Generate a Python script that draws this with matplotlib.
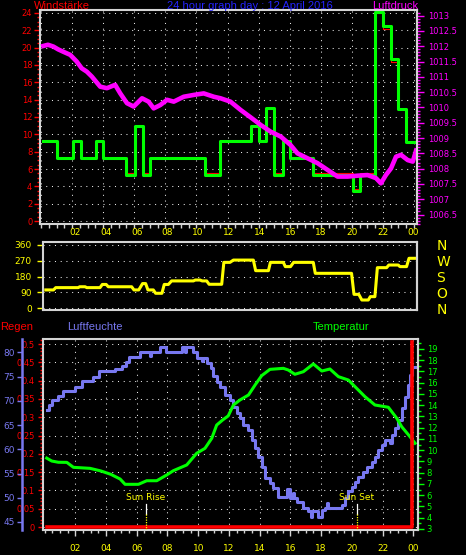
import matplotlib
matplotlib.use('Agg')
import matplotlib.pyplot as plt
from matplotlib.ticker import MultipleLocator, FixedLocator, FuncFormatter
import matplotlib.transforms as mtransforms

# ---- data (hours of the day) ----
# wind speed, step values (green = gust, red = average)
wind_t = [0.1, 1.0, 2.05, 2.55, 3.55, 4.0, 5.5, 6.05, 6.55, 7.0, 10.55, 11.5, 13.5, 14.0,
          14.5, 15.0, 15.55, 16.05, 17.5, 20.05, 20.55, 21.5, 22.0, 22.5, 23.0, 23.5, 24.1]
wind_gust = [9.2, 7.3, 9.2, 7.3, 9.2, 7.3, 5.3, 11.0, 5.3, 7.3, 5.3, 9.2, 11.0, 9.2,
             13.0, 5.3, 9.2, 7.3, 5.3, 3.5, 5.3, 24.15, 22.5, 18.7, 12.9, 9.1, 9.1]
wind_avg = [9.2, 7.3, 9.2, 7.3, 9.2, 7.3, 5.5, 11.0, 5.5, 7.3, 5.5, 9.2, 11.0, 9.2,
            13.0, 5.5, 9.2, 7.3, 5.5, 3.7, 5.5, 24.0, 22.2, 18.4, 12.9, 9.1, 9.1]

# air pressure (hPa)
press_t = [0.15, 0.45, 0.8, 1.1, 1.44, 1.88, 2.3, 2.62, 2.95, 3.27, 3.81, 4.24, 4.77, 5.1,
           5.53, 5.96, 6.5, 6.92, 7.25, 7.68, 8.11, 8.54, 9.18, 9.83, 10.47, 11.12, 11.55,
           12.19, 12.84, 13.48, 14.13, 14.77, 15.42, 16.06, 16.5, 17.14, 17.79, 18.43,
           19.08, 19.72, 20.37, 21.01, 21.55, 21.87, 22.19, 22.52, 22.84, 23.16, 23.59,
           23.92, 24.13]
press_v = [1012.01, 1012.05, 1011.99, 1011.9, 1011.82, 1011.72, 1011.5, 1011.28, 1011.17,
           1011.01, 1010.68, 1010.63, 1010.74, 1010.46, 1010.14, 1010.03, 1010.3, 1010.19,
           1009.97, 1010.08, 1010.25, 1010.19, 1010.35, 1010.41, 1010.46, 1010.35, 1010.3,
           1010.19, 1009.92, 1009.68, 1009.43, 1009.21, 1009.05, 1008.77, 1008.5, 1008.34,
           1008.18, 1007.96, 1007.74, 1007.74, 1007.77, 1007.79, 1007.69, 1007.52, 1007.79,
           1008.01, 1008.39, 1008.45, 1008.28, 1008.23, 1008.59]

# wind direction (degrees)
dir_t = [0.08, 0.58, 0.73, 2.19, 2.29, 2.64, 2.75, 3.61, 3.76, 4.01, 4.15, 5.67, 5.82, 6.13,
         6.38, 6.58, 6.73, 7.08, 7.23, 7.64, 7.79, 8.06, 8.27, 9.69, 9.81, 10.12, 10.26,
         10.55, 10.71, 11.53, 11.67, 12.07, 12.29, 13.59, 13.74, 14.57, 14.7, 15.54, 15.67,
         16.01, 16.21, 17.49, 17.62, 19.98, 20.14, 20.45, 20.65, 21.07, 21.2, 21.5, 21.66,
         22.26, 22.41, 23.02, 23.13, 23.56, 23.72, 24.11]
dir_v = [104, 104, 117, 117, 122, 122, 117, 117, 135, 135, 122, 122, 104, 104,
         140, 140, 104, 104, 85, 85, 135, 135, 155, 155, 160, 160, 155,
         155, 136, 136, 260, 260, 273, 273, 213, 213, 260, 260, 236,
         236, 260, 260, 198, 198, 79, 79, 47, 47, 66, 66, 230,
         230, 245, 245, 236, 236, 283, 283]

# humidity (%), step values
hum_t = [0.14, 0.28, 0.47, 0.9, 1.22, 1.98, 2.41, 3.18, 3.56, 4.58, 5.02, 5.3, 5.52, 6.22,
         6.86, 6.95, 7.52, 7.9, 8.93, 9.14, 9.2, 9.69, 9.9, 10.23, 10.31, 10.55, 10.82,
         10.99, 11.2, 11.42, 11.74, 12.07, 12.29, 12.5, 12.72, 12.93, 13.27, 13.48, 13.7,
         13.91, 14.13, 14.35, 14.67, 14.89, 15.21, 15.76, 15.97, 16.19, 16.26, 16.4, 16.84,
         17.17, 17.31, 17.38, 17.81, 18.04, 18.25, 18.36, 18.43, 19.34, 19.55, 19.77, 19.98,
         20.2, 20.42, 20.75, 20.96, 21.28, 21.5, 21.72, 21.94, 22.15, 22.48, 22.58, 22.81,
         23.02, 23.24, 23.45, 23.67, 23.78, 23.94, 24.11]
hum_v = [68.1, 69.1, 70.2, 71.0, 72.0, 72.9, 74.1, 75.0, 76.2, 76.6, 77.2, 77.9, 79.0, 80.0,
         79.3, 80.0, 81.0, 80.0, 81.0, 80.0, 81.0, 80.0, 78.9, 78.3, 78.9, 77.7, 76.7,
         75.2, 73.9, 72.9, 71.1, 70.2, 68.8, 67.4, 66.4, 65.0, 64.0, 61.9, 60.2,
         58.5, 56.4, 54.0, 53.0, 52.0, 50.2, 51.8, 49.9, 51.0, 49.9, 49.2, 47.8,
         47.3, 46.1, 47.3, 46.1, 47.5, 47.8, 49.0, 47.8, 48.5, 49.9, 51.3, 52.3,
         53.3, 54.3, 55.4, 56.4, 57.4, 58.5, 59.9, 60.9, 61.9, 61.2, 63.0, 64.3,
         66.0, 68.5, 70.8, 73.3, 75.3, 77.0, 77.0]

# temperature (deg C)
temp_t = [0.14, 0.47, 0.9, 1.45, 1.88, 2.96, 3.66, 4.31, 4.92, 5.24, 6.11, 6.65, 7.3, 7.95,
          8.38, 9.25, 9.9, 10.44, 10.88, 11.2, 11.59, 11.95, 12.29, 12.72, 13.27, 13.7,
          14.13, 14.67, 15.54, 15.86, 16.29, 16.84, 17.49, 18.04, 18.57, 19.12, 19.77,
          20.2, 20.85, 21.5, 22.37, 22.92, 23.24, 23.78, 24.11]
temp_v = [9.3, 9.04, 8.93, 8.92, 8.48, 8.39, 8.16, 7.86, 7.44, 6.97, 6.97, 7.29, 7.29, 7.8,
          8.18, 8.69, 9.73, 10.17, 11.06, 12.24, 12.69, 13.05, 14.02, 14.47, 14.91, 15.8,
          16.63, 17.19, 17.28, 17.13, 16.75, 16.98, 17.67, 17.04, 17.22, 16.54, 16.24,
          15.65, 14.76, 14.02, 13.82, 12.84, 12.09, 11.2, 10.62]

# rain (mm)
rain_t = [0.14, 23.93, 23.93]
rain_v = [0.0, 0.0, 0.505]

sunrise_h = 6.62
sunset_h = 20.35
hour_ticks = list(range(2, 25, 2))
hour_labels = ['%02d' % (h % 24) for h in hour_ticks]

# ---- style ----
W, H = 466, 555
FRAME = '#d4d4d4'
RED = '#ff0000'
MAG = '#ff00ff'
GREEN = '#00ff00'
YEL = '#ffff00'
HUM = '#7878f0'
NARROW = ['Liberation Sans Narrow', 'DejaVu Sans']
GRID = dict(color='#e8e8e8', lw=0.75, ls=(0, (1, 4.5)))

fig = plt.figure(figsize=(W / 100, H / 100), dpi=100, facecolor='black')


def box(x0, y0, x1, y1):
    # pixel rectangle -> figure fraction
    return [x0 / W, 1 - y1 / H, (x1 - x0) / W, (y1 - y0) / H]


def frame(ax, hide=()):
    for name, sp in ax.spines.items():
        sp.set_color(FRAME)
        sp.set_linewidth(1.5)
        sp.set_visible(name not in hide)


def ylabels(ax, color, size=6, family=NARROW):
    for lab in ax.get_yticklabels():
        lab.set_color(color)
        lab.set_fontsize(size)
        lab.set_family(family)


# ---- top panel: wind speed + pressure ----
ax1 = fig.add_axes(box(40, 10, 417.3, 224))
ax1.set_facecolor('black')
frame(ax1)
ax1.set_xlim(-0.064, 24.21)
ax1.set_ylim(-0.346, 24.346)
ax1.xaxis.set_major_locator(MultipleLocator(2))
ax1.xaxis.set_minor_locator(MultipleLocator(0.5))
ax1.yaxis.set_major_locator(MultipleLocator(2))
ax1.yaxis.set_minor_locator(MultipleLocator(0.5))
ax1.tick_params(axis='x', which='both', colors=FRAME, labelbottom=False, length=3, width=1)
ax1.tick_params(axis='y', which='major', colors=RED, length=4, width=1, pad=1.5)
ax1.tick_params(axis='y', which='minor', colors=RED, length=2, width=1)
ylabels(ax1, RED)
ax1.grid(True, which='major', **GRID)
ax1.set_axisbelow(True)
ax1.step(wind_t, wind_avg, where='post', color=RED, lw=0.8)
ax1.step(wind_t, wind_gust, where='post', color=GREEN, lw=2.2)

ax1p = ax1.twinx()
frame(ax1p, hide=('left', 'top', 'bottom'))
ax1p.set_ylim(1006.19, 1013.186)
ax1p.yaxis.set_major_locator(MultipleLocator(0.5))
ax1p.yaxis.set_minor_locator(MultipleLocator(0.1))
ax1p.yaxis.set_major_formatter(FuncFormatter(lambda v, p: '%g' % v))
ax1p.tick_params(axis='y', which='major', colors=MAG, length=5, width=1, pad=2.5)
ax1p.tick_params(axis='y', which='minor', colors=MAG, length=2.5, width=1)
ylabels(ax1p, MAG)
ax1p.plot(press_t, press_v, color=MAG, lw=3.3)

fig.text(34 / W, 1 - 6 / H, 'Windstärke', color=RED, fontsize=8,
         family='Liberation Sans', va='center', ha='left')
fig.text(250 / W, 1 - 6 / H, '24 hour graph day : 12 April 2016', color='#2424ff',
         fontsize=8, family='Liberation Sans', va='center', ha='center')
fig.text(372 / W, 1 - 6 / H, 'Luftdruck', color=MAG, fontsize=8,
         family='Liberation Sans', va='center', ha='left')

# ---- middle panel: wind direction ----
ax2 = fig.add_axes(box(43, 242, 417, 310))
ax2.set_facecolor('black')
frame(ax2)
ax2.set_xlim(-0.1, 24.24)
ax2.set_ylim(-9.6, 375.3)
ax2.yaxis.set_major_locator(FixedLocator([0, 90, 180, 270, 360]))
ax2.xaxis.set_major_locator(FixedLocator(hour_ticks))
ax2.set_xticklabels(hour_labels)
ax2.tick_params(axis='x', which='both', top=True, bottom=False, labeltop=True,
                labelbottom=False, length=0, pad=3.5, labelcolor=YEL, labelsize=6.5)
ax2.tick_params(axis='y', colors=YEL, length=4, width=1, pad=4, labelsize=6.5)
ax2.yaxis.grid(True, **GRID)
ax2.set_axisbelow(True)
ax2.plot(dir_t, dir_v, color=YEL, lw=2.2)

ax2r = ax2.twinx()
frame(ax2r, hide=('left', 'top', 'bottom'))
ax2r.set_ylim(ax2.get_ylim())
ax2r.yaxis.set_major_locator(FixedLocator([0, 90, 180, 270, 360]))
ax2r.set_yticklabels(['N', 'O', 'S', 'W', 'N'])
ax2r.tick_params(axis='y', length=0, pad=14, labelcolor=YEL, labelsize=10)

# ---- bottom panel: rain, humidity, temperature ----
axr = fig.add_axes(box(42.7, 339.3, 418, 530))
axr.set_facecolor('black')
frame(axr)
axr.set_xlim(-0.12, 24.3)
axr.set_ylim(-0.008, 0.513)
axr.xaxis.set_major_locator(FixedLocator(hour_ticks))
axr.xaxis.set_minor_locator(MultipleLocator(0.5))
axr.set_xticklabels(hour_labels)
axr.tick_params(axis='x', which='major', colors=FRAME, length=4, width=1, pad=6,
                labelcolor=YEL, labelsize=6.5)
axr.tick_params(axis='x', which='minor', colors=FRAME, length=2.5, width=1)
axr.yaxis.set_major_locator(MultipleLocator(0.05))
axr.yaxis.set_minor_locator(MultipleLocator(0.01))
axr.yaxis.set_major_formatter(FuncFormatter(lambda v, p: '%g' % round(v, 2)))
axr.tick_params(axis='y', which='major', colors=RED, length=3.5, width=1, pad=2)
axr.tick_params(axis='y', which='minor', colors=RED, length=2, width=1)
ylabels(axr, RED)
axr.grid(True, which='major', **GRID)
axr.set_axisbelow(True)

axh = axr.twinx()
frame(axh, hide=('right', 'top', 'bottom'))
axh.yaxis.tick_left()
axh.spines['left'].set_position(('outward', 15.1))
axh.spines['left'].set_color(HUM)
axh.spines['left'].set_linewidth(1.8)
axh.set_ylim(43.35, 82.68)
axh.yaxis.set_major_locator(MultipleLocator(5))
axh.tick_params(axis='y', colors=HUM, length=3.5, width=1, pad=1.2)
ylabels(axh, HUM, size=6.5)
axh.step(hum_t, hum_v, where='post', color=HUM, lw=2.2)

axt = axr.twinx()
frame(axt, hide=('left', 'top', 'bottom'))
axt.set_ylim(2.91, 19.86)
axt.yaxis.set_major_locator(MultipleLocator(1))
axt.yaxis.set_minor_locator(MultipleLocator(0.5))
axt.tick_params(axis='y', which='major', colors=GREEN, length=4.5, width=1, pad=1.8)
axt.tick_params(axis='y', which='minor', colors=GREEN, length=2.5, width=1)
ylabels(axt, GREEN)
axt.plot(temp_t, temp_v, color=GREEN, lw=2.2)
axt.plot(rain_t, rain_v, color=RED, lw=2.6, transform=axr.transData)

# sun rise / sun set markers
tr = mtransforms.blended_transform_factory(axr.transData, axr.transAxes)
for h, name in [(sunrise_h, 'Sun Rise'), (sunset_h, 'Sun Set')]:
    axt.plot([h, h], [0.136, 0.084], color='white', lw=0.9, transform=tr)
    axt.plot([h, h], [0.084, 0.0], color=YEL, lw=0.9, ls=(0, (1, 1)), transform=tr)
    axt.text(h - 0.05, 0.17, name, color=YEL, fontsize=6.5, family=NARROW,
             ha='center', va='center', transform=tr)

fig.text(0.5 / W, 1 - 327 / H, 'Regen', color=RED, fontsize=8,
         family='Liberation Sans', va='center', ha='left')
fig.text(67 / W, 1 - 327 / H, 'Luftfeuchte', color=HUM, fontsize=8,
         family='Liberation Sans', va='center', ha='left')
fig.text(313 / W, 1 - 327 / H, 'Temperatur', color=GREEN, fontsize=8,
         family='Liberation Sans', va='center', ha='left')

fig.savefig('out.png', dpi=100, facecolor='black')
